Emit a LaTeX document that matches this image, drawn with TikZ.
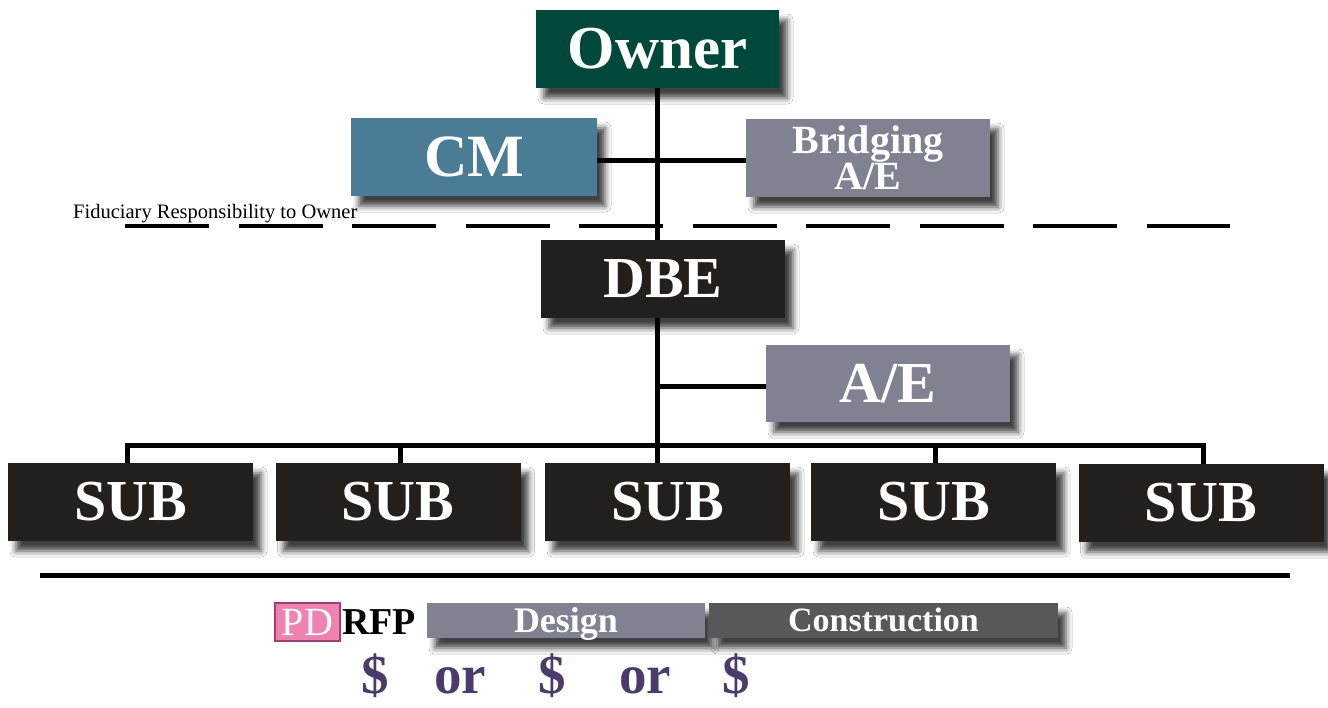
\documentclass[tikz,border=0pt]{standalone}
\usepackage{fontspec}
\setmainfont{Liberation Serif}
\usetikzlibrary{shadows.blur}
\definecolor{ownerc}{HTML}{00493A}
\definecolor{cmc}{HTML}{4A7D95}
\definecolor{grayc}{HTML}{808191}
\definecolor{darkc}{HTML}{231F1C}
\definecolor{constc}{HTML}{58585A}
\definecolor{pdfill}{HTML}{EE82B0}
\definecolor{pddraw}{HTML}{A04070}
\definecolor{dollarc}{HTML}{4A3B6A}
\tikzset{
  box/.style={rectangle, inner sep=0pt, text=white, align=center,
    blur shadow={shadow xshift=8pt, shadow yshift=-10pt, shadow blur radius=6pt, shadow opacity=75}},
  bigbox/.style={box, minimum width=245pt, minimum height=78pt,
    font=\fontsize{58}{58}\selectfont\bfseries},
  barbox/.style={box, minimum height=35pt, text depth=0pt},
  conn/.style={line width=5pt, draw=black},
  dollar/.style={anchor=base, inner sep=0pt, text=dollarc, font=\fontsize{55}{55}\selectfont\bfseries}
}
\begin{document}
\begin{tikzpicture}[x=1pt,y=-1pt]
\useasboundingbox[fill=white] (0,0) rectangle (1328,707);
% boxes
\node[bigbox, fill=ownerc, minimum width=243pt, font=\fontsize{61}{61}\selectfont\bfseries] (owner) at (657.5,49) {Owner};
\node[bigbox, fill=cmc, minimum width=246pt, font=\fontsize{60}{60}\selectfont\bfseries] (cm) at (474,157) {CM};
\node[bigbox, fill=grayc, minimum width=244pt, font=\fontsize{40}{31}\selectfont\bfseries] (bridge) at (868,158) {Bridging\\A/E};
\node[bigbox, fill=darkc, minimum width=244pt] (dbe) at (663,279) {DBE};
\node[bigbox, fill=grayc, minimum width=244pt, minimum height=77pt] (ae) at (888,383.5) {A/E};
\node[bigbox, fill=darkc] (sub1) at (130.5,502) {SUB};
\node[bigbox, fill=darkc] (sub2) at (398,502) {SUB};
\node[bigbox, fill=darkc] (sub3) at (667.5,502) {SUB};
\node[bigbox, fill=darkc] (sub4) at (933.5,502) {SUB};
\node[bigbox, fill=darkc] (sub5) at (1201,503) {SUB};
% fiduciary line
\node[anchor=base west, inner sep=0pt, font=\fontsize{20.5}{20.5}\selectfont] (fid) at (73,218) {Fiduciary Responsibility to Owner};
\coordinate (dashL) at (125,226);
\coordinate (dashR) at (1230,226);
\draw[line width=3.2pt, dash pattern=on 84pt off 29.5pt] (dashL) -- (dashR);
% connectors
\draw[conn] (owner.south) -- (owner.south |- dbe.north);
\draw[conn] ([yshift=-3pt]cm.east) -- ([yshift=-3pt]cm.east -| bridge.west);
\coordinate (busL) at (127,445);
\coordinate (busR) at (1203,445);
\draw[conn] (owner.south |- dbe.south) -- (owner.south |- sub3.north);
\draw[conn] ([yshift=-2.5pt]ae.west) -- ([yshift=-2.5pt]ae.west -| owner.south);
\draw[conn] (busL |- sub1.north) -- (busL) -- (busR) -- (busR |- sub5.north);
\draw[conn] ([xshift=2pt]sub2.north) -- ([xshift=2pt]sub2.north |- busL);
\draw[conn] ([xshift=1.5pt]sub4.north) -- ([xshift=1.5pt]sub4.north |- busL);
% timeline
\coordinate (tlL) at (40,575);
\coordinate (tlR) at (1290,575);
\draw[conn] (tlL) -- (tlR);
\node[rectangle, inner sep=0pt, minimum width=65pt, minimum height=38pt, fill=pdfill, draw=pddraw, line width=1.5pt,
  text=white!92!pink, font=\fontsize{40}{40}\selectfont, text height=26pt, text depth=0pt] (pd) at (307.5,622) {PD};
\node[anchor=west, inner sep=0pt, font=\fontsize{38}{38}\selectfont\bfseries, text height=25pt, text depth=0pt] (rfp) at (342,622) {RFP};
\node[barbox, fill=grayc, minimum width=278pt, font=\fontsize{36}{36}\selectfont\bfseries, text height=23.5pt] (design) at (566,620.5) {Design};
\node[barbox, fill=constc, minimum width=349pt, font=\fontsize{34}{34}\selectfont\bfseries, text height=22.5pt] (constr) at (883.5,620.5) {Construction};
% dollars
\node[dollar] (d1) at (375,693) {\$};
\node[dollar] (or1) at (460,693) {or};
\node[dollar] (d2) at (552,693) {\$};
\node[dollar] (or2) at (645,693) {or};
\node[dollar] (d3) at (736,693) {\$};
\end{tikzpicture}
\end{document}
